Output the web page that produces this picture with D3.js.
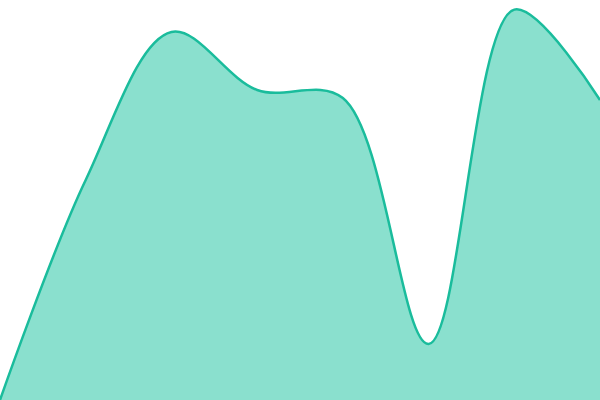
<!DOCTYPE html>
<html>
<head>
<meta charset="utf-8">
<script src="https://cdn.jsdelivr.net/npm/d3@7"></script>
<style>
  html, body { margin: 0; padding: 0; background: #fff; }
  svg { display: block; }
</style>
</head>
<body>
<svg id="chart" width="600" height="400"></svg>
<script>
// evenly spaced samples, no axes shown
var CATEGORIES = [0, 1, 2, 3, 4, 5, 6, 7];
var VALUES = [0, 55, 92, 77.5, 75.5, 14, 97.6, 75];

const drawAreaChart = ({ labels, values, selector }) => {
    const width = 600, height = 400;
    const svg = d3.select(selector).attr('viewBox', [0, 0, width, height]);

    const data = labels.map((l, i) => ({ label: l, value: values[i] }));

    const x = d3
        .scalePoint()
        .domain(labels)
        .range([0, width]);
    const y = d3
        .scaleLinear()
        .domain([0, 100])
        .range([height, 0]);

    const area = d3
        .area()
        .x((d) => x(d.label))
        .y0(height + 10)
        .y1((d) => y(d.value))
        .curve(d3.curveCatmullRom);
    const line = d3
        .line()
        .x((d) => x(d.label))
        .y((d) => y(d.value))
        .curve(d3.curveCatmullRom);

    svg
        .append('path')
        .datum(data)
        .attr('fill', '#8ae0ce')
        .attr('d', area);
    svg
        .append('path')
        .datum(data)
        .attr('fill', 'none')
        .attr('stroke', '#1abc9c')
        .attr('stroke-width', 2.5)
        .attr('stroke-linejoin', 'round')
        .attr('d', line);
};

drawAreaChart({ labels: CATEGORIES, values: VALUES, selector: '#chart' });
</script>
</body>
</html>
